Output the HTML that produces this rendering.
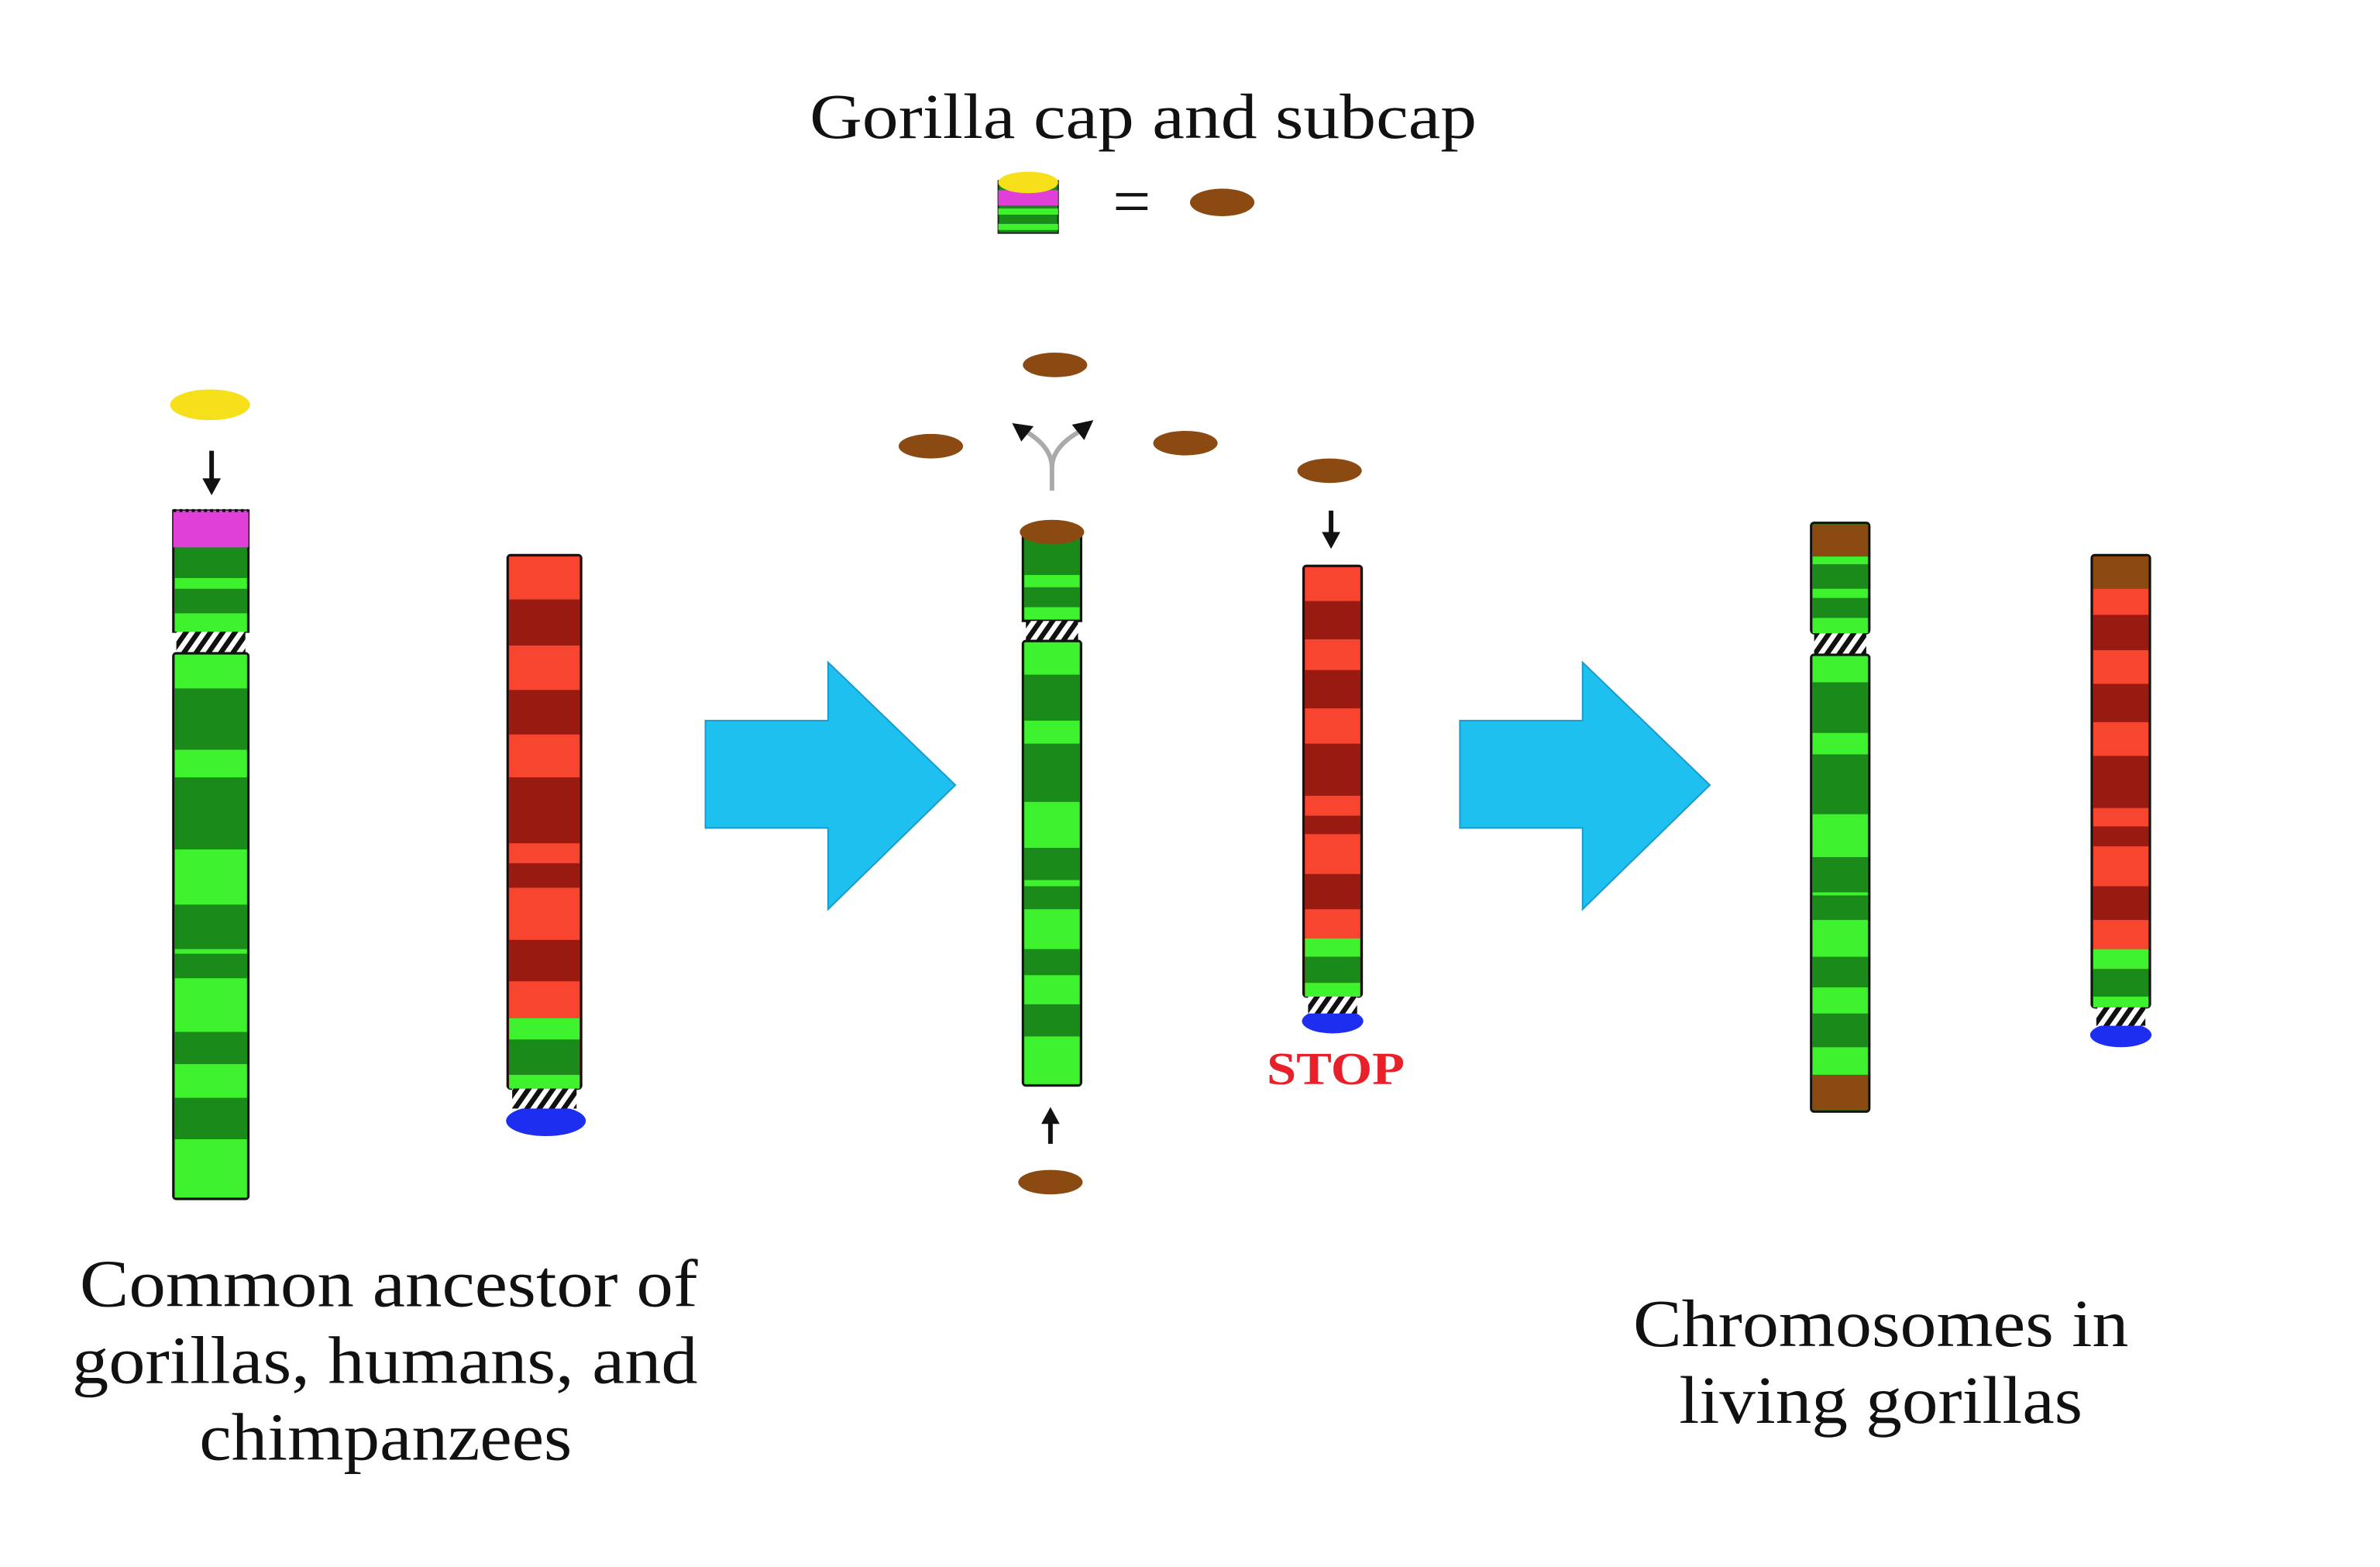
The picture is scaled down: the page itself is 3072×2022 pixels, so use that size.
<!DOCTYPE html>
<html><head><meta charset="utf-8"><style>html,body{margin:0;padding:0;background:#fff}svg{display:block}</style></head>
<body>
<svg width="3072" height="2022" viewBox="0 0 1552 1022" preserveAspectRatio="none" xmlns="http://www.w3.org/2000/svg">
<defs>
<pattern id="h" width="8" height="14" patternUnits="userSpaceOnUse" patternTransform="skewX(-35)">
<rect width="8" height="14" fill="#fff"/><rect width="4" height="14" fill="#111"/>
</pattern>
</defs>
<rect width="1552" height="1022" fill="#fff"/>
<g font-family="'Liberation Serif',serif" fill="#111">
<text x="528" y="90" font-size="42" textLength="435" lengthAdjust="spacingAndGlyphs">Gorilla cap and subcap</text>
<text x="52" y="852" font-size="44" textLength="403" lengthAdjust="spacingAndGlyphs">Common ancestor of</text>
<text x="47" y="902" font-size="44" textLength="408" lengthAdjust="spacingAndGlyphs">gorillas, humans, and</text>
<text x="130" y="952" font-size="44" textLength="243" lengthAdjust="spacingAndGlyphs">chimpanzees</text>
<text x="1065" y="878" font-size="44" textLength="323" lengthAdjust="spacingAndGlyphs">Chromosomes in</text>
<text x="1095" y="928" font-size="44" textLength="263" lengthAdjust="spacingAndGlyphs">living gorillas</text>
<text x="826" y="707" font-size="30" font-weight="bold" fill="#E8202A" textLength="90" lengthAdjust="spacingAndGlyphs">STOP</text>
<text x="738" y="146" font-size="44" text-anchor="middle">=</text>
</g>
<!-- legend icon -->
<rect x="651" y="118" width="39" height="34" fill="#1A8A1A" stroke="#222" stroke-width="1"/>
<rect x="651" y="124" width="39" height="10" fill="#E040D8"/>
<rect x="651" y="136" width="39" height="4" fill="#3EF22E"/>
<rect x="651" y="146" width="39" height="4" fill="#3EF22E"/>
<ellipse cx="670.5" cy="119" rx="19.5" ry="7" fill="#F5E01A"/>
<g fill="#8B4A12">
<ellipse cx="797" cy="132" rx="21" ry="9"/>
<ellipse cx="688" cy="238" rx="21" ry="8"/>
<ellipse cx="607" cy="291" rx="21" ry="8"/>
<ellipse cx="773" cy="289" rx="21" ry="8"/>
<ellipse cx="867" cy="307" rx="21" ry="8"/>
<ellipse cx="685" cy="771" rx="21" ry="8"/>
</g>
<ellipse cx="137" cy="264" rx="26" ry="10" fill="#F5E01A"/>
<!-- blue arrows -->
<polygon points="460,470 540,470 540,432 623,512 540,593 540,540 460,540" fill="#1EC0F0" stroke="#1A9ACC" stroke-width="1"/>
<polygon points="952,470 1032,470 1032,432 1115,512 1032,593 1032,540 952,540" fill="#1EC0F0" stroke="#1A9ACC" stroke-width="1"/>
<!-- small black arrows -->
<g stroke="#111" stroke-width="3" fill="#111">
<line x1="138" y1="294" x2="138" y2="315"/><polygon points="132,312 144,312 138,323" stroke="none"/>
<line x1="868" y1="333" x2="868" y2="350"/><polygon points="862,347 874,347 868,358" stroke="none"/>
<line x1="685" y1="746" x2="685" y2="730"/><polygon points="679,733 691,733 685,722" stroke="none"/>
</g>
<!-- fork arrow -->
<path d="M686,320 L686,305 Q686,292 670,282" fill="none" stroke="#aaa" stroke-width="3"/>
<path d="M686,305 Q686,292 703,282" fill="none" stroke="#aaa" stroke-width="3"/>
<polygon points="660,276 674,278 666,288" fill="#111"/>
<polygon points="713,274 699,277 707,287" fill="#111"/>

<!-- Chromosome 1 left green -->
<g>
<rect x="113" y="333" width="49" height="79" fill="#1A8A1A" stroke="#111" stroke-width="1.5"/>
<rect x="113" y="333" width="49" height="24" fill="#E040D8"/>
<line x1="113" y1="333" x2="162" y2="333" stroke="#111" stroke-width="2" stroke-dasharray="2,2"/>
<rect x="114" y="377" width="47" height="7" fill="#3EF22E"/>
<rect x="114" y="400" width="47" height="12" fill="#3EF22E"/>
<rect x="115" y="412" width="45" height="14" fill="url(#h)"/>
<rect x="113" y="426" width="49" height="356" fill="#1A8A1A" stroke="#111" stroke-width="1.5" rx="2"/>
<g fill="#3EF22E">
<rect x="114" y="427" width="47" height="22"/>
<rect x="114" y="489" width="47" height="18"/>
<rect x="114" y="554" width="47" height="36"/>
<rect x="114" y="619" width="47" height="3"/>
<rect x="114" y="638" width="47" height="35"/>
<rect x="114" y="694" width="47" height="22"/>
<rect x="114" y="743" width="47" height="38"/>
</g>
</g>
<!-- Chromosome 2 left red -->
<g>
<rect x="331" y="362" width="48" height="348" fill="#991A10" stroke="#111" stroke-width="1.5" rx="2"/>
<g fill="#F84530">
<rect x="332" y="363" width="46" height="28"/>
<rect x="332" y="421" width="46" height="29"/>
<rect x="332" y="479" width="46" height="28"/>
<rect x="332" y="550" width="46" height="13"/>
<rect x="332" y="579" width="46" height="34"/>
<rect x="332" y="640" width="46" height="24"/>
</g>
<rect x="332" y="664" width="46" height="14" fill="#3EF22E"/>
<rect x="332" y="678" width="46" height="23" fill="#1A8A1A"/>
<rect x="332" y="701" width="46" height="9" fill="#3EF22E"/>
<ellipse cx="356" cy="731" rx="26" ry="10" fill="#1E2EF0"/>
<rect x="334" y="710" width="42" height="13" fill="url(#h)"/>
</g>
<!-- Chromosome 3 middle green -->
<g>
<rect x="667" y="347" width="38" height="58" fill="#1A8A1A" stroke="#111" stroke-width="1.5"/>
<rect x="668" y="375" width="36" height="8" fill="#3EF22E"/>
<rect x="668" y="396" width="36" height="8" fill="#3EF22E"/>
<ellipse cx="686" cy="347" rx="21" ry="8" fill="#8B4A12"/>
<rect x="669" y="405" width="34" height="13" fill="url(#h)"/>
<rect x="667" y="418" width="38" height="290" fill="#1A8A1A" stroke="#111" stroke-width="1.5" rx="2"/>
<g fill="#3EF22E">
<rect x="668" y="419" width="36" height="21"/>
<rect x="668" y="470" width="36" height="15"/>
<rect x="668" y="523" width="36" height="30"/>
<rect x="668" y="574" width="36" height="4"/>
<rect x="668" y="593" width="36" height="26"/>
<rect x="668" y="636" width="36" height="19"/>
<rect x="668" y="676" width="36" height="31"/>
</g>
</g>
<!-- Chromosome 4 middle red -->
<g>
<rect x="850" y="369" width="38" height="281" fill="#991A10" stroke="#111" stroke-width="1.5" rx="2"/>
<g fill="#F84530">
<rect x="851" y="370" width="36" height="22"/>
<rect x="851" y="417" width="36" height="20"/>
<rect x="851" y="462" width="36" height="23"/>
<rect x="851" y="519" width="36" height="13"/>
<rect x="851" y="544" width="36" height="26"/>
<rect x="851" y="593" width="36" height="19"/>
</g>
<rect x="851" y="612" width="36" height="12" fill="#3EF22E"/>
<rect x="851" y="624" width="36" height="17" fill="#1A8A1A"/>
<rect x="851" y="641" width="36" height="9" fill="#3EF22E"/>
<ellipse cx="869" cy="666" rx="20" ry="8" fill="#1E2EF0"/>
<rect x="853" y="650" width="32" height="11" fill="url(#h)"/>
</g>
<!-- Chromosome 5 right green -->
<g>
<rect x="1181" y="341" width="38" height="72" fill="#1A8A1A" stroke="#111" stroke-width="1.5" rx="2"/>
<rect x="1182" y="342" width="36" height="21" fill="#8B4A12"/>
<rect x="1182" y="363" width="36" height="5" fill="#3EF22E"/>
<rect x="1182" y="384" width="36" height="6" fill="#3EF22E"/>
<rect x="1182" y="403" width="36" height="10" fill="#3EF22E"/>
<rect x="1183" y="413" width="34" height="14" fill="url(#h)"/>
<rect x="1181" y="427" width="38" height="298" fill="#1A8A1A" stroke="#111" stroke-width="1.5" rx="2"/>
<g fill="#3EF22E">
<rect x="1182" y="428" width="36" height="17"/>
<rect x="1182" y="478" width="36" height="14"/>
<rect x="1182" y="531" width="36" height="28"/>
<rect x="1182" y="582" width="36" height="2"/>
<rect x="1182" y="600" width="36" height="24"/>
<rect x="1182" y="644" width="36" height="17"/>
<rect x="1182" y="683" width="36" height="18"/>
</g>
<rect x="1182" y="701" width="36" height="23" fill="#8B4A12"/>
</g>
<!-- Chromosome 6 right red -->
<g>
<rect x="1364" y="362" width="38" height="295" fill="#991A10" stroke="#111" stroke-width="1.5" rx="2"/>
<rect x="1365" y="363" width="36" height="21" fill="#8B4A12"/>
<g fill="#F84530">
<rect x="1365" y="384" width="36" height="17"/>
<rect x="1365" y="424" width="36" height="22"/>
<rect x="1365" y="471" width="36" height="22"/>
<rect x="1365" y="527" width="36" height="12"/>
<rect x="1365" y="552" width="36" height="26"/>
<rect x="1365" y="600" width="36" height="19"/>
</g>
<rect x="1365" y="619" width="36" height="13" fill="#3EF22E"/>
<rect x="1365" y="632" width="36" height="18" fill="#1A8A1A"/>
<rect x="1365" y="650" width="36" height="7" fill="#3EF22E"/>
<ellipse cx="1383" cy="675" rx="20" ry="8" fill="#1E2EF0"/>
<rect x="1367" y="657" width="32" height="12" fill="url(#h)"/>
</g>
</svg>
</body></html>
